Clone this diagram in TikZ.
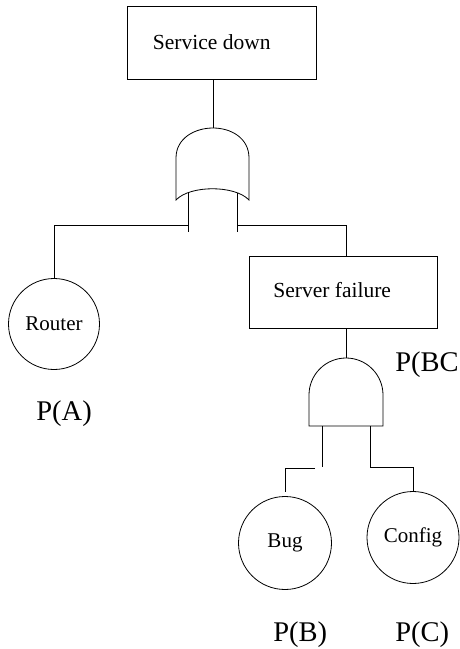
\documentclass[tikz,border=0pt]{standalone}
\usepackage{fontspec}
\setmainfont{Liberation Serif}
\begin{document}
\begin{tikzpicture}[x=1pt,y=-1pt, line width=0.8pt,
  eventbox/.style={draw, rectangle, inner sep=0pt},
  basic/.style={draw, circle, inner sep=0pt, minimum size=91pt, font=\fontsize{21}{25}\selectfont},
  lbl/.style={inner sep=0pt, anchor=base west, font=\fontsize{21.5}{25}\selectfont},
  prob/.style={inner sep=0pt, anchor=base west, font=\fontsize{28.5}{32}\selectfont},
  gate/.style={draw, fill=white}]
\useasboundingbox (0,0) rectangle (460,649);

% events
\node[eventbox, minimum width=189pt, minimum height=73pt] (top) at (221.5,42.5) {};
\node[lbl] (toptxt) at (152.5,49.5) {Service down};
\node[eventbox, minimum width=188pt, minimum height=72pt] (server) at (343,292) {};
\node[lbl] (servertxt) at (273,297) {Server failure};

\node[basic] (router) at (54,324) {Router};
\node[basic, minimum size=93pt] (bug) at (285,543) {Bug};
\node[basic, minimum size=92pt] (config) at (413,537.5) {Config};

% probabilities
\node[prob] (pa) at (36,420) {P(A)};
\node[prob] (pbc) at (395,371) {P(BC};
\node[prob] (pb) at (273,641) {P(B)};
\node[prob] (pc) at (395,641) {P(C)};

% OR gate
\coordinate (ortop) at (213,128);
\coordinate (orinl) at (188,193);
\coordinate (orinr) at (237,193);
\draw[gate] (176,158) .. controls (176,138) and (195,128) .. (ortop)
  .. controls (231,128) and (249,138) .. (249,158) -- (249,200)
  .. controls (235,185) and (190,185) .. (176,200) -- cycle;
\coordinate (orl) at (188,232);
\coordinate (orr) at (237,232);
\coordinate (bl) at (54,225);
\coordinate (br) at (346,225);

% AND gate
\coordinate (andtop) at (346,358);
\draw[gate] (309,426) -- (309,395) arc[start angle=180, end angle=360, radius=37] -- (383,426) -- cycle;
\coordinate (andl) at (322,426);
\coordinate (andr) at (370,426);
\coordinate (andlb) at (322,467);
\coordinate (andrb) at (370,467);
\coordinate (bugj) at (315,468);
\coordinate (bugc) at (285,468);
\coordinate (bugend) at (285,492);
\coordinate (cfgc) at (413,467);

% connectors
\draw (top.south -| ortop) -- (ortop);
\draw (orinl) -- (orl);
\draw (orinr) -- (orr);
\draw (orl |- bl) -- (bl) -- (router.north);
\draw (orr |- br) -- (br) -- (server.north -| br);
\draw (server.south -| andtop) -- (andtop);
\draw (andl) -- (andlb);
\draw (andr) -- (andrb) -- (cfgc) -- (config.north);
\draw (bugj) -- (bugc) -- (bugend);
\end{tikzpicture}
\end{document}
